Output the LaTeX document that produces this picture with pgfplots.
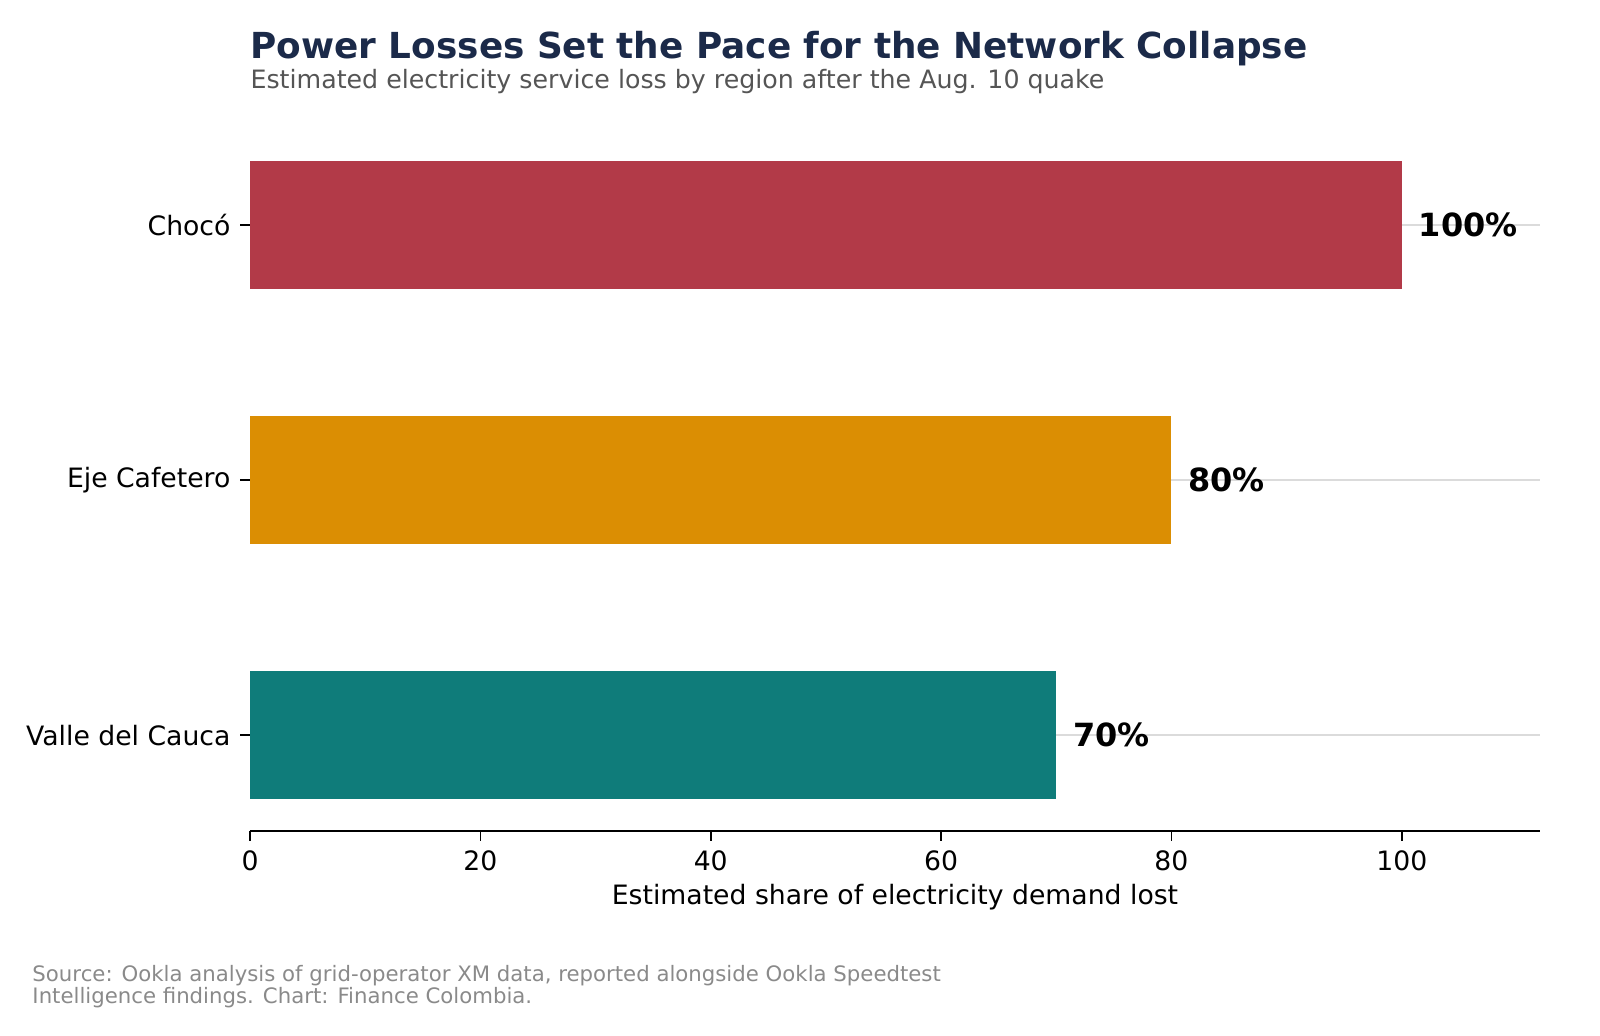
\documentclass[border=0pt]{standalone}
\usepackage{pgfplots}
\pgfplotsset{compat=1.18}
\usepackage{fontspec}
\setmainfont{DejaVu Sans}
\definecolor{choco}{HTML}{B23A48}
\definecolor{eje}{HTML}{DB8E03}
\definecolor{valle}{HTML}{0F7C7A}
\definecolor{titlenavy}{HTML}{1B2A49}
\definecolor{subgray}{HTML}{555555}
\definecolor{srcgray}{HTML}{8A8A8A}
\begin{document}
\begin{tikzpicture}
\begin{axis}[
  at={(90pt,73.44pt)}, anchor=south west,
  scale only axis, width=464.4pt, height=252.72pt,
  xbar, bar width=0.5, bar shift=0pt,
  xmin=0, xmax=112, ymin=-0.375, ymax=2.375,
  xtick={0,20,...,100},
  ytick={0,1,2},
  yticklabels={Valle del Cauca,Eje Cafetero,Chocó},
  axis x line*=bottom, axis y line*=left,
  y axis line style={draw=none},
  x axis line style={line width=0.8pt},
  tick align=outside,
  major tick length=3.5pt,
  tick style={black, line width=0.6pt},
  xtick pos=bottom, ytick pos=left,
  ymajorgrids, grid style={color=black!14, line width=0.6pt},
  tick label style={font=\fontsize{9.6}{11.5}\selectfont},
  /pgf/number format/assume math mode=true,
  xlabel={Estimated share of electricity demand lost},
  xlabel style={font=\fontsize{9.6}{11.5}\selectfont, yshift=2pt},
  nodes near coords={\pgfmathprintnumber{\pgfplotspointmeta}\%},
  nodes near coords style={font=\fontsize{11.5}{14}\selectfont\bfseries, anchor=west, xshift=2.6pt},
  point meta=x,
]
\addplot[draw=none, fill=valle] coordinates {(70,0)};
\addplot[draw=none, fill=eje] coordinates {(80,1)};
\addplot[draw=none, fill=choco] coordinates {(100,2)};
\end{axis}
\node[anchor=base west, text=titlenavy, font=\fontsize{12.9}{15}\selectfont\bfseries, inner sep=0pt] at (90pt,351.7pt) {Power Losses Set the Pace for the Network Collapse};
\node[anchor=base west, text=subgray, font=\fontsize{9.1}{11}\selectfont, inner sep=0pt] at (90pt,340.9pt) {Estimated electricity service loss by region after the Aug. 10 quake};
\node[anchor=base west, text=srcgray, font=\fontsize{7.65}{9}\selectfont, inner sep=0pt] at (11.5pt,19.1pt) {Source: Ookla analysis of grid-operator XM data, reported alongside Ookla Speedtest};
\node[anchor=base west, text=srcgray, font=\fontsize{7.65}{9}\selectfont, inner sep=0pt] at (11.5pt,11.2pt) {Intelligence findings. Chart: Finance Colombia.};
\pgfresetboundingbox
\path[use as bounding box] (0,0) rectangle (576pt,372.6pt);
\end{tikzpicture}
\end{document}
